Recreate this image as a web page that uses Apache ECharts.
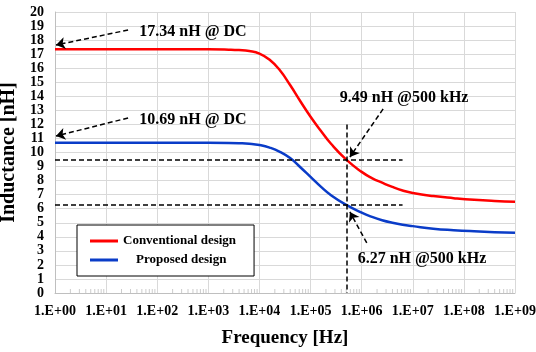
<!DOCTYPE html>
<html>
<head>
<meta charset="utf-8">
<script src="https://cdn.jsdelivr.net/npm/echarts@6/dist/echarts.min.js"></script>
<style>html,body{margin:0;padding:0;background:#fff;}#c{width:536px;height:352px;}</style>
</head>
<body>
<div id="c"></div>
<script>
// Frequency sample points as log10(Hz)
const freqExp = [0,1,2,3,3.4,3.6,3.8,4.0,4.2,4.4,4.6,4.8,5.0,5.2,5.4,5.699,6.0,6.2,6.4,6.6,6.8,7.0,7.4,7.8,8.2,8.6,9];
const conventional = [17.34,17.34,17.34,17.34,17.32,17.29,17.22,17.04,16.6,15.85,14.8,13.65,12.55,11.55,10.62,9.49,8.62,8.18,7.85,7.55,7.3,7.12,6.9,6.75,6.63,6.55,6.5];
const proposed = [10.69,10.69,10.69,10.69,10.68,10.66,10.62,10.53,10.35,10.05,9.6,8.95,8.26,7.57,6.96,6.27,5.72,5.42,5.18,5.0,4.86,4.76,4.58,4.47,4.39,4.33,4.29];
const seriesNames = ['Conventional design','Proposed design'];
const yTicks = {min:0, max:20, interval:1};
const xRangeExp = [0, 9];
const markFreq = 5e5;
const markConv = 9.49, markProp = 6.27;

const FONT = '"Liberation Serif", "Times New Roman", serif';
const chart = echarts.init(document.getElementById('c'), null, {renderer:'canvas'});

const toPts = vals => freqExp.map((e,i)=>[Math.pow(10,e), vals[i]]);
const minorTicks = [];
for (let k = xRangeExp[0]; k < xRangeExp[1]; k++) for (let m = 2; m <= 9; m++) minorTicks.push([m*Math.pow(10,k), 0]);

const dash = {color:'#000', type:[5,3], width:1.5};
const arrows = [
  {from:[Math.pow(10,1.43),18.72], to:[Math.pow(10,0.02),17.65]},
  {from:[Math.pow(10,1.43),12.46], to:[Math.pow(10,0.02),11.17]},
  {from:[Math.pow(10,6.42),13.10], to:[Math.pow(10,5.77),9.68]},
  {from:[Math.pow(10,6.10),3.56], to:[Math.pow(10,5.77),5.77]}
];
const notes = [
  {text:'17.34 nH @ DC', at:[Math.pow(10,2.70),18.58]},
  {text:'10.69 nH @ DC', at:[Math.pow(10,2.70),12.31]},
  {text:'9.49 nH @500 kHz', at:[Math.pow(10,6.83),13.88]},
  {text:'6.27 nH @500 kHz', at:[Math.pow(10,7.18),2.42]}
];
const xEnd = Math.pow(10,6.8);

chart.setOption({
  animation:false,
  backgroundColor:'#fff',
  grid:{left:55, right:21, top:12, bottom:59, containLabel:false, outerBoundsMode:'none'},
  legend:{
    data:seriesNames, orient:'vertical', left:77, top:225,
    padding:[9,18,9,13], itemGap:5, itemWidth:28, itemHeight:3, icon:'rect',
    borderColor:'#000', borderWidth:1, backgroundColor:'#fff',
    formatter: n => n === seriesNames[1] ? '    ' + n : n,
    textStyle:{fontFamily:FONT, fontWeight:'bold', fontSize:13, lineHeight:14, color:'#000'}
  },
  xAxis:{
    type:'log', logBase:10, min:Math.pow(10,xRangeExp[0]), max:Math.pow(10,xRangeExp[1]),
    name:'Frequency [Hz]', nameLocation:'middle', nameGap:36,
    nameTextStyle:{fontFamily:FONT, fontWeight:'bold', fontSize:19, color:'#000'},
    axisLine:{lineStyle:{color:'#bfbfbf'}}, axisTick:{show:false},
    axisLabel:{fontFamily:FONT, fontWeight:'bold', fontSize:14, color:'#000', margin:11,
      formatter: v => { const e = Math.round(Math.log10(v)); return '1.E+' + (e<10?'0':'') + e; }},
    splitLine:{show:true, lineStyle:{color:'#d9d9d9'}}
  },
  yAxis:{
    type:'value', min:yTicks.min, max:yTicks.max, interval:yTicks.interval,
    name:'Inductance [nH]', nameLocation:'middle', nameGap:22, nameRotate:90,
    nameTextStyle:{fontFamily:FONT, fontWeight:'bold', fontSize:20, color:'#000'},
    axisLine:{show:true, lineStyle:{color:'#bfbfbf'}}, axisTick:{show:false},
    axisLabel:{fontFamily:FONT, fontWeight:'bold', fontSize:14, color:'#000', margin:11},
    splitLine:{show:true, lineStyle:{color:'#d9d9d9'}}
  },
  series:[
    {type:'scatter', name:'minor', data:minorTicks, symbol:'rect', symbolSize:[1,4], symbolOffset:[0,-2],
      itemStyle:{color:'#bfbfbf'}, silent:true, z:1},
    {type:'line', name:seriesNames[0], data:toPts(conventional), smooth:0.5, symbol:'none',
      lineStyle:{color:'#ff0000', width:2.5}, itemStyle:{color:'#ff0000'}, z:3},
    {type:'line', name:seriesNames[1], data:toPts(proposed), smooth:0.5, symbol:'none',
      lineStyle:{color:'#0a3cc8', width:2.5}, itemStyle:{color:'#0a3cc8'}, z:3},
    {type:'line', name:'guides', data:[], silent:true, z:4,
      markLine:{silent:true, symbol:['none','none'], label:{show:false}, lineStyle:dash, animation:false,
        data:[
          [{coord:[1,markConv]},{coord:[xEnd,markConv]}],
          [{coord:[1,markProp]},{coord:[xEnd,markProp]}],
          [{coord:[markFreq,12]},{coord:[markFreq,0]}]
        ]}},
    {type:'line', name:'arrows', data:[], silent:true, z:5,
      markLine:{silent:true, symbol:['none','arrow'], symbolSize:9, label:{show:false}, lineStyle:dash, itemStyle:{color:'#000'}, animation:false,
        data: arrows.map(a=>[{coord:a.from},{coord:a.to}])}}
  ]
});

chart.setOption({
  graphic: notes.map(n => {
    const p = chart.convertToPixel({gridIndex:0}, n.at);
    return {type:'text', x:p[0], y:p[1], z:10,
      style:{text:n.text, fontFamily:FONT, fontWeight:'bold', fontSize:16, fill:'#000', align:'center', verticalAlign:'middle'}};
  })
});
</script>
</body>
</html>
